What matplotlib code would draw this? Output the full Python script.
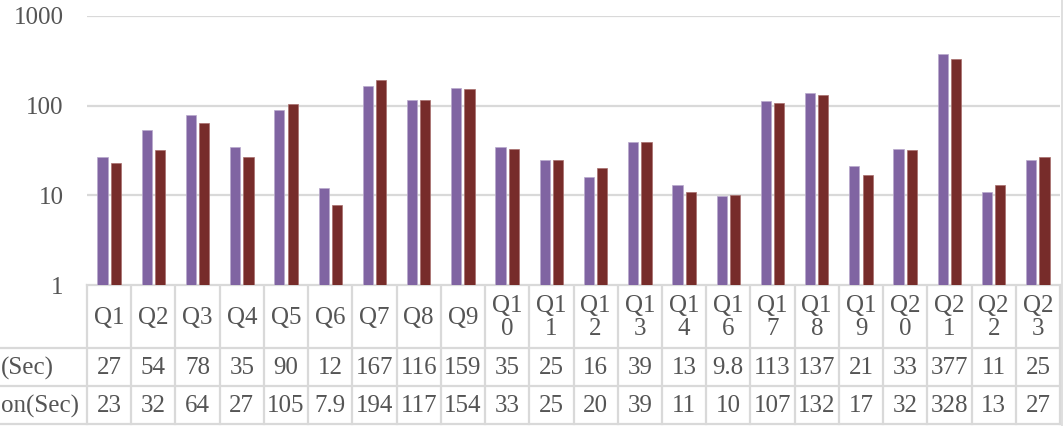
import matplotlib
matplotlib.use("Agg")
import matplotlib.pyplot as plt
import numpy as np

categories = ["Q1", "Q2", "Q3", "Q4", "Q5", "Q6", "Q7", "Q8", "Q9", "Q10", "Q11",
              "Q12", "Q13", "Q14", "Q16", "Q17", "Q18", "Q19", "Q20", "Q21", "Q22", "Q23"]
series_a_name = "(Sec)"
series_b_name = "on(Sec)"
series_a = [27, 54, 78, 35, 90, 12, 167, 116, 159, 35, 25, 16, 39, 13, 9.8, 113, 137, 21, 33, 377, 11, 25]
series_b = [23, 32, 64, 27, 105, 7.9, 194, 117, 154, 33, 25, 20, 39, 11, 10, 107, 132, 17, 32, 328, 13, 27]
y_ticks = [1, 10, 100, 1000]

W, H = 1063, 426
FONT = "Liberation Serif"
TXT = "#555555"
GRID = "#d9d9d9"
C_A = "#8064A2"
C_B = "#772C2A"
FS = 18

fig = plt.figure(figsize=(W / 100, H / 100), dpi=100)

# pixel geometry
x0, x1 = 87, 1060
y_top, y_bot = 16, 285
n = len(categories)
colw = (x1 - x0) / n

ax = fig.add_axes([x0 / W, (H - y_bot) / H, (x1 - x0) / W, (y_bot - y_top) / H])
ax.set_yscale("log")
ax.set_ylim(1, 1000)
ax.set_xlim(0, n)
idx = np.arange(n) + 0.5
bw = 0.23
ax.bar(idx - 0.15, series_a, width=bw, color=C_A, edgecolor="#b9a9cc", linewidth=0.5, zorder=3)
ax.bar(idx + 0.15, series_b, width=bw, color=C_B, edgecolor="#a86e6c", linewidth=0.5, zorder=3)
ax.set_yticks(y_ticks)
ax.set_yticklabels([str(t) for t in y_ticks], fontsize=FS, color=TXT, family=FONT)
ax.yaxis.set_minor_locator(matplotlib.ticker.NullLocator())
ax.tick_params(axis="y", length=0, pad=17)
ax.set_xticks([])
ax.grid(axis="y", color=GRID, linewidth=1.6, zorder=0)
for s in ax.spines.values():
    s.set_visible(False)

# overlay in pixel coordinates for the data table
ov = fig.add_axes([0, 0, 1, 1], zorder=-1)
ov.set_xlim(0, W)
ov.set_ylim(H, 0)
ov.axis("off")

r0, r1, r2, r3 = 285, 348, 386, 424
lw = 1.6
ov.plot([x0, x1], [r0, r0], color=GRID, lw=lw)
for yy in (r1, r2, r3):
    ov.plot([0, x1], [yy, yy], color=GRID, lw=lw)
for k in range(n + 1):
    xx = x0 + k * colw
    ov.plot([xx, xx], [r0, r3], color=GRID, lw=lw)
ov.plot([1061.5, 1061.5], [0, H], color=GRID, lw=1.2)

def fmt(v):
    return ("%g" % v)

for i, c in enumerate(categories):
    cx = x0 + (i + 0.5) * colw
    lab = c if len(c) <= 2 else c[:2] + "\n" + c[2:]
    ov.text(cx, (r0 + r1) / 2 + 1, lab, ha="center", va="center", fontsize=FS,
            color=TXT, family=FONT, linespacing=1.05)
    ov.text(cx, (r1 + r2) / 2 + 1, fmt(series_a[i]), ha="center", va="center",
            fontsize=FS, color=TXT, family=FONT)
    ov.text(cx, (r2 + r3) / 2 + 1, fmt(series_b[i]), ha="center", va="center",
            fontsize=FS, color=TXT, family=FONT)

ov.text(1, (r1 + r2) / 2 + 1, series_a_name, ha="left", va="center", fontsize=FS,
        color=TXT, family=FONT)
ov.text(1, (r2 + r3) / 2 + 1, series_b_name, ha="left", va="center", fontsize=FS,
        color=TXT, family=FONT)

fig.savefig("out.png", dpi=100)
